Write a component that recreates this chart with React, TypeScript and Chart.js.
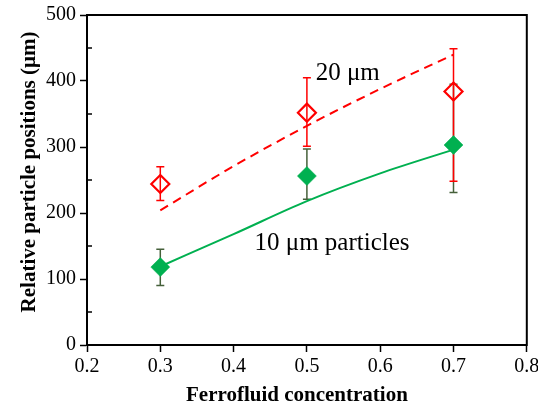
import React, { useEffect, useRef } from "react";
import { Chart, registerables } from "chart.js";

Chart.register(...registerables);

// ---- data ----
const concentrations = [0.3, 0.5, 0.7];
const pos20 = [244, 352, 384];
const pos20Low = [219, 301, 248];
const pos20High = [270, 405, 449];
const pos10 = [118, 256, 303];
const pos10Low = [90, 221, 231];
const pos10High = [145, 297, 395];

const fitX = [0.3, 0.4, 0.5, 0.6, 0.7];
const fit20 = [204, 271, 332, 388, 440];
const fit10 = [119, 168, 218, 260, 296];

const yMinorTicks = [50, 150, 250, 350, 450];

const label20 = "20 μm";
const label20At = [0.512, 401];
const label10 = "10 μm particles";
const label10At = [0.4285, 144];

const xTitle = "Ferrofluid concentration";
const yTitle = "Relative particle positions (μm)";

const RED = "#ff0000";
const GREEN = "#00b050";
const GREEN_ERR = "#45603a";
const FONT = '"Liberation Serif", "Times New Roman", serif';

const toPts = (xs: number[], ys: number[]) => xs.map((x, i) => ({ x, y: ys[i] }));

const decor = {
  id: "decor",
  beforeDatasetsDraw(chart: any) {
    const { ctx, scales } = chart;
    const x = scales.x;
    const y = scales.y;
    const bars = (low: number[], high: number[], color: string) => {
      ctx.save();
      ctx.strokeStyle = color;
      ctx.lineWidth = 1.5;
      concentrations.forEach((c, i) => {
        const px = x.getPixelForValue(c);
        const pl = y.getPixelForValue(low[i]);
        const ph = y.getPixelForValue(high[i]);
        ctx.beginPath();
        ctx.moveTo(px, pl);
        ctx.lineTo(px, ph);
        ctx.moveTo(px - 4, pl);
        ctx.lineTo(px + 4, pl);
        ctx.moveTo(px - 4, ph);
        ctx.lineTo(px + 4, ph);
        ctx.stroke();
      });
      ctx.restore();
    };
    bars(pos10Low, pos10High, GREEN_ERR);
    bars(pos20Low, pos20High, RED);
  },
  afterDraw(chart: any) {
    const { ctx, chartArea, scales } = chart;
    const x = scales.x;
    const y = scales.y;
    ctx.save();
    // frame
    ctx.strokeStyle = "#000";
    ctx.lineWidth = 2;
    ctx.strokeRect(chartArea.left, chartArea.top, chartArea.right - chartArea.left, chartArea.bottom - chartArea.top);
    // minor ticks (inward)
    ctx.lineWidth = 1.5;
    yMinorTicks.forEach((v) => {
      const py = y.getPixelForValue(v);
      ctx.beginPath();
      ctx.moveTo(chartArea.left, py);
      ctx.lineTo(chartArea.left + 5, py);
      ctx.stroke();
    });
    // annotations
    ctx.fillStyle = "#000";
    ctx.font = `25px ${FONT}`;
    ctx.textAlign = "left";
    ctx.textBaseline = "alphabetic";
    ctx.fillText(label20, x.getPixelForValue(label20At[0]), y.getPixelForValue(label20At[1]));
    ctx.fillText(label10, x.getPixelForValue(label10At[0]), y.getPixelForValue(label10At[1]));
    // axis titles
    ctx.font = `bold 21px ${FONT}`;
    ctx.textAlign = "center";
    ctx.fillText(xTitle, (chartArea.left + chartArea.right) / 2 - 10, chart.height - 5);
    ctx.translate(35, (chartArea.top + chartArea.bottom) / 2 - 8);
    ctx.rotate(-Math.PI / 2);
    ctx.fillText(yTitle, 0, 0);
    ctx.restore();
  },
};

export default function App() {
  const ref = useRef<HTMLCanvasElement | null>(null);
  useEffect(() => {
    if (!ref.current) return;
    Chart.defaults.font.family = FONT;
    Chart.defaults.color = "#000";
    const chart = new Chart(ref.current, {
      type: "scatter",
      data: {
        datasets: [
          {
            data: toPts(concentrations, pos20),
            showLine: false,
            pointStyle: "rectRot",
            pointRadius: 9,
            pointBorderWidth: 2.2,
            pointBorderColor: RED,
            pointBackgroundColor: "rgba(255,255,255,0)",
          },
          {
            data: toPts(concentrations, pos10),
            showLine: false,
            pointStyle: "rectRot",
            pointRadius: 9.5,
            pointBorderWidth: 0.5,
            pointBorderColor: GREEN,
            pointBackgroundColor: GREEN,
          },
          {
            data: toPts(fitX, fit20),
            showLine: true,
            pointRadius: 0,
            borderColor: RED,
            borderWidth: 2,
            borderDash: [9, 6],
            cubicInterpolationMode: "monotone",
          },
          {
            data: toPts(fitX, fit10),
            showLine: true,
            pointRadius: 0,
            borderColor: GREEN,
            borderWidth: 2,
            cubicInterpolationMode: "monotone",
          },
        ],
      },
      options: {
        responsive: false,
        animation: false,
        layout: { padding: { top: 15, right: 10, left: 0, bottom: 0 } },
        plugins: { legend: { display: false }, tooltip: { enabled: false } },
        scales: {
          x: {
            type: "linear",
            min: 0.2,
            max: 0.8,
            ticks: {
              stepSize: 0.1,
              font: { size: 20 },
              padding: 3,
              maxRotation: 0,
              callback: (v: any) => Number(v).toFixed(1),
            },
            grid: { drawOnChartArea: false, drawTicks: true, tickLength: 7, tickWidth: 1.5, tickColor: "#000" },
            border: { display: true, color: "#000", width: 2 },
            afterFit: (s: any) => {
              s.height = 61;
              s.paddingLeft = 0;
              s.paddingRight = 0;
            },
          },
          y: {
            type: "linear",
            min: 0,
            max: 500,
            ticks: { stepSize: 100, font: { size: 20 }, padding: 4 },
            grid: { drawOnChartArea: false, drawTicks: true, tickLength: 7, tickWidth: 1.5, tickColor: "#000" },
            border: { display: true, color: "#000", width: 2 },
            afterFit: (s: any) => {
              s.width = 87;
              s.paddingTop = 0;
              s.paddingBottom = 0;
            },
          },
        },
      },
      plugins: [decor],
    } as any);
    return () => chart.destroy();
  }, []);
  return (
    <div style={{ position: "absolute", left: 0, top: 0, width: 538, height: 406, background: "#fff" }}>
      <canvas ref={ref} width={538} height={406} />
    </div>
  );
}
